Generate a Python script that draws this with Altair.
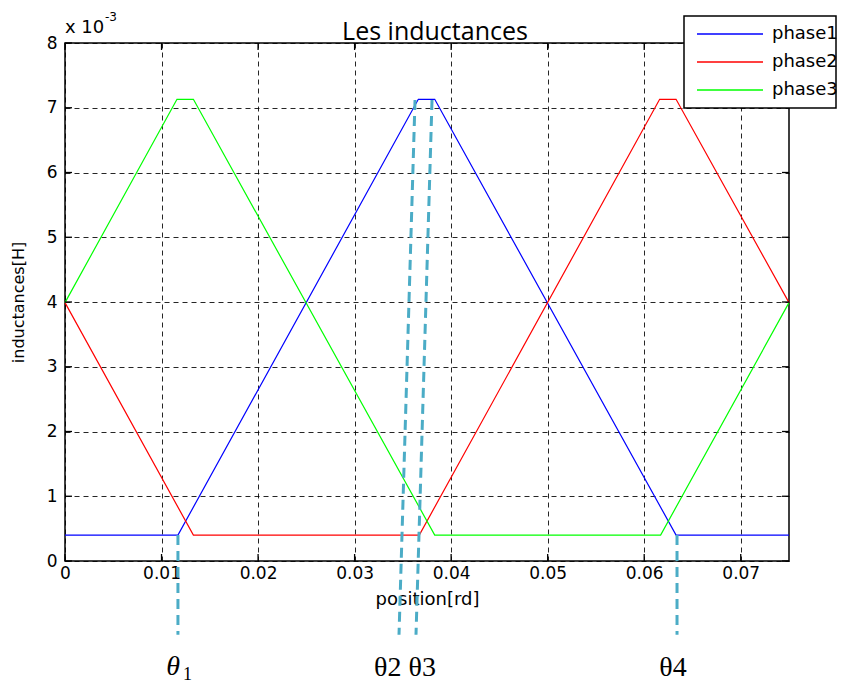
import altair as alt
import pandas as pd

# ---------------- data (position in rad, inductance in H) ----------------
series_names = ["phase1", "phase2", "phase3"]
series_colors = ["#0000ff", "#ff0000", "#00ff00"]

phase1_pos = [0.0, 0.0117, 0.0366, 0.0383, 0.0633, 0.075]
phase1_L = [0.0004, 0.0004, 0.00713, 0.00713, 0.0004, 0.0004]
phase2_pos = [0.0, 0.0133, 0.0367, 0.0616, 0.0633, 0.075]
phase2_L = [0.00399, 0.0004, 0.0004, 0.00713, 0.00713, 0.00399]
phase3_pos = [0.0, 0.0116, 0.0133, 0.0383, 0.0617, 0.075]
phase3_L = [0.00399, 0.00713, 0.00713, 0.0004, 0.0004, 0.00399]

x_ticks = [0, 0.01, 0.02, 0.03, 0.04, 0.05, 0.06, 0.07]
y_ticks = [0, 0.001, 0.002, 0.003, 0.004, 0.005, 0.006, 0.007, 0.008]

# annotation dashed guides (theta angles)
theta_top_pos = [0.0117, 0.03626, 0.03802, 0.0634]
theta_top_L = [0.0004, 0.00712, 0.00712, 0.0004]
theta_bot_pos = [0.0117, 0.0346, 0.03636, 0.0634]
theta_bot_L = [-0.00114, -0.00114, -0.00114, -0.00114]

title_text = "Les inductances"
x_title = "position[rd]"
y_title = "inductances[H]"

W, H = 724, 518
FONT = "DejaVu Sans"

rows = []
for name, xs, ys in zip(series_names, [phase1_pos, phase2_pos, phase3_pos],
                        [phase1_L, phase2_L, phase3_L]):
    for i, (x, y) in enumerate(zip(xs, ys)):
        rows.append({"series": name, "pos": x, "L": y, "i": i})
df = pd.DataFrame(rows)

xscale = alt.Scale(domain=[0, 0.075], nice=False, zero=False)
yscale = alt.Scale(domain=[0, 0.008], nice=False, zero=False)

x_axis = alt.Axis(
    values=x_ticks,
    labelExpr="datum.value == 0 ? '0' : format(datum.value, '.2f')",
    title=x_title, titleFontSize=18, titlePadding=9, labelPadding=4, labelFlush=False)
y_axis = alt.Axis(
    values=y_ticks,
    labelExpr="format(round(datum.value * 1000), 'd')",
    title=y_title, titleFontSize=16, titlePadding=20, labelPadding=8, labelFlush=False)


def X(field="pos"):
    return alt.X(f"{field}:Q", scale=xscale, axis=x_axis)


def Y(field="L"):
    return alt.Y(f"{field}:Q", scale=yscale, axis=y_axis)


lines = alt.Chart(df).mark_line(strokeWidth=1.2).encode(
    x=X(), y=Y(),
    color=alt.Color("series:N", scale=alt.Scale(domain=series_names, range=series_colors),
                    legend=None),
    order="i:Q",
)

# inward ticks on all four sides
xt = pd.DataFrame({"pos": x_ticks})
yt = pd.DataFrame({"L": y_ticks})
tick_style = dict(color="black", strokeWidth=1.3)
ticks_bottom = alt.Chart(xt).mark_rule(**tick_style).encode(
    x=X(), y=alt.value(H), y2=alt.value(H - 7))
ticks_top = alt.Chart(xt).mark_rule(**tick_style).encode(
    x=X(), y=alt.value(0), y2=alt.value(7))
ticks_left = alt.Chart(yt).mark_rule(**tick_style).encode(
    y=Y(), x=alt.value(0), x2=alt.value(7))
ticks_right = alt.Chart(yt).mark_rule(**tick_style).encode(
    y=Y(), x=alt.value(W), x2=alt.value(W - 7))

# dashed theta guides
gdf = pd.DataFrame({"pos": theta_top_pos, "L": theta_top_L,
                    "pos2": theta_bot_pos, "L2": theta_bot_L})
guides = alt.Chart(gdf).mark_rule(color="#4bacc6", strokeWidth=3, strokeDash=[10, 6]).encode(
    x=X(), y=Y(), x2="pos2:Q", y2="L2:Q",
)

one = pd.DataFrame({"a": [0]})


def txt(text, x, y, size, font=FONT, align="left", style="normal", baseline="alphabetic"):
    return alt.Chart(one).mark_text(
        text=text, font=font, fontSize=size, align=align, baseline=baseline,
        fontStyle=style, color="black").encode(x=alt.value(x), y=alt.value(y))


title = txt(title_text, 370, -3, 25, font="Open Sans", align="center")
exp_base = txt("x 10", 0, -10, 18)
exp_sup = txt("-3", 40, -22, 12)

theta1 = txt("θ", 108, 632, 28, font="Liberation Serif", align="center", style="italic")
theta1_sub = txt("1", 118, 637, 18, font="Liberation Serif")
theta23 = txt("θ2 θ3", 340, 633, 28, font="Liberation Serif", align="center")
theta4 = txt("θ4", 608, 633, 28, font="Liberation Serif", align="center")

# legend box
legend_box = alt.Chart(one).mark_rect(fill="white", stroke="black", strokeWidth=1.5).encode(
    x=alt.value(619), x2=alt.value(771), y=alt.value(-27), y2=alt.value(65))
legend_layers = [legend_box]
for k, (name, col) in enumerate(zip(series_names, series_colors)):
    yy = -9 + 28 * k
    legend_layers.append(alt.Chart(one).mark_rule(color=col, strokeWidth=1.5).encode(
        x=alt.value(632), x2=alt.value(698), y=alt.value(yy)))
    legend_layers.append(txt(name, 707, yy, 18, baseline="middle"))

chart = alt.layer(
    lines, ticks_bottom, ticks_top, ticks_left, ticks_right, guides,
    title, exp_base, exp_sup, theta1, theta1_sub, theta23, theta4,
    *legend_layers,
).properties(
    width=W, height=H,
    padding={"left": 57, "top": 35, "right": 48, "bottom": 124},
    autosize="none",
    background="white",
).configure_view(
    stroke="black", strokeWidth=1.5
).configure_axis(
    labelFont=FONT, labelFontSize=17, labelColor="black",
    titleFont=FONT, titleFontWeight="normal", titleColor="black",
    ticks=False, domain=False,
    grid=True, gridColor="black", gridDash=[5, 4], gridWidth=1, gridOpacity=0.85,
)

chart.save("out.html", embed_options={"renderer": "svg", "actions": False})
